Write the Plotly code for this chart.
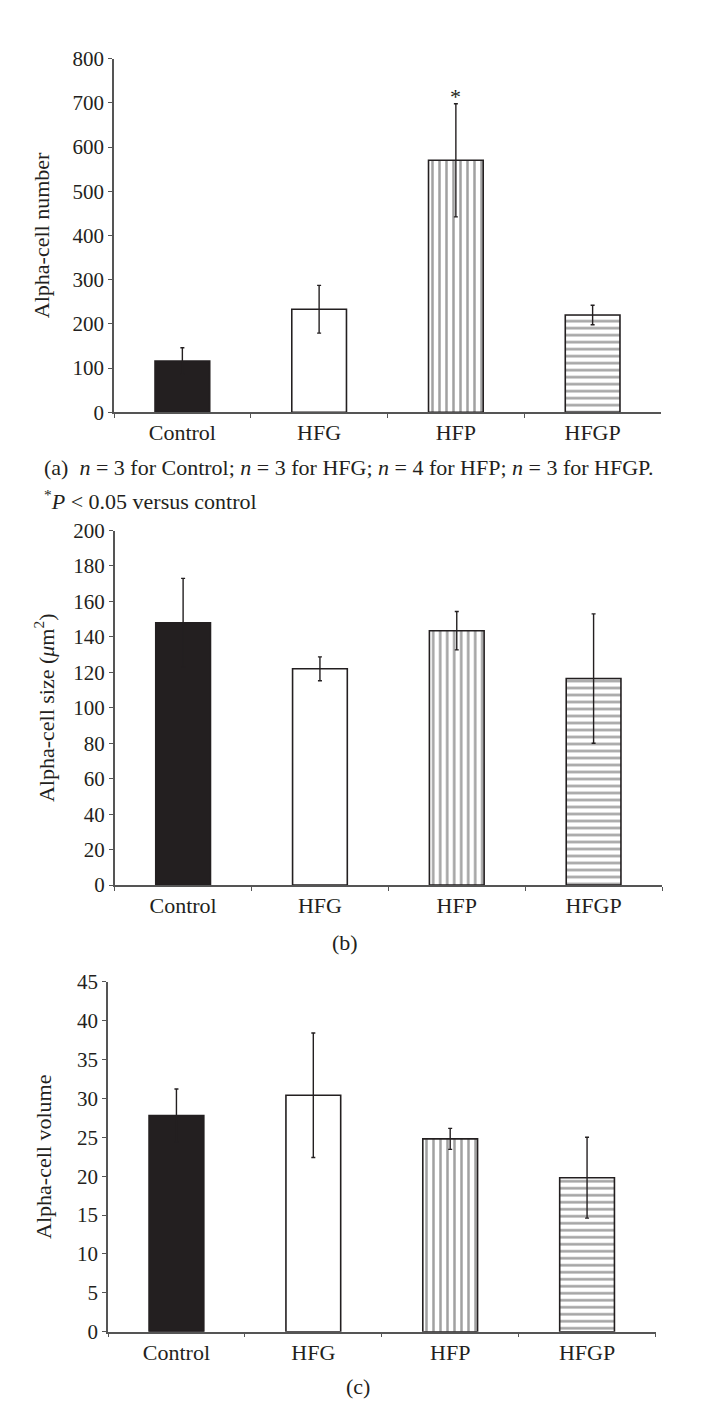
import plotly.graph_objects as go

categories = ["Control", "HFG", "HFP", "HFGP"]

number_vals = [116, 233, 570, 220]
number_errs = [30, 54, 128, 22]

size_vals = [148, 122, 143.5, 116.5]
size_errs = [25, 6.7, 10.8, 36.5]

volume_vals = [27.8, 30.4, 24.8, 19.8]
volume_errs = [3.4, 8.0, 1.35, 5.2]

panel_ranges = [800, 200, 45]
panel_dticks = [100, 20, 5]
panel_titles = ["Alpha-cell number",
                "Alpha-cell size (<i>μ</i>m<sup>2</sup>)",
                "Alpha-cell volume"]

INK = "#231f20"
AXIS = "#555555"
FONT = "Liberation Serif"
W, H = 701, 1418

fills = [INK, "white", "white", "white"]
shapes = ["", "", "|", "-"]

# pixel boxes of each plot area: (left, right, bottom, top)
boxes = [(106, 653, 399, 39.3),
         (106.7, 654, 880, 519.3),
         (100, 647.5, 1334.3, 978.3)]
standoffs = [17, 13, 19]

fig = go.Figure()
data_sets = [(number_vals, number_errs), (size_vals, size_errs), (volume_vals, volume_errs)]

for i, (vals, errs) in enumerate(data_sets):
    xa = "x" if i == 0 else f"x{i+1}"
    ya = "y" if i == 0 else f"y{i+1}"
    fig.add_trace(go.Bar(
        x=categories, y=vals, xaxis=xa, yaxis=ya, width=0.4,
        marker=dict(color=fills, line=dict(color=INK, width=1.6),
                    pattern=dict(shape=shapes, size=7, solidity=0.36, fgcolor=INK)),
        error_y=dict(type="data", array=errs, color=INK, thickness=1.4, width=2),
        showlegend=False, hoverinfo="skip"))

for i, (l, r, b, t) in enumerate(boxes):
    sx = "xaxis" if i == 0 else f"xaxis{i+1}"
    sy = "yaxis" if i == 0 else f"yaxis{i+1}"
    ya = "y" if i == 0 else f"y{i+1}"
    xa = "x" if i == 0 else f"x{i+1}"
    fig.layout[sx] = dict(domain=[l / W, r / W], anchor=ya, range=[-0.5, 3.5],
                          showline=True, linecolor=AXIS, linewidth=1.5,
                          ticks="outside", tickson="boundaries", ticklen=4, tickcolor=AXIS,
                          showgrid=False, zeroline=False,
                          tickfont=dict(family=FONT, size=22, color=INK))
    fig.layout[sy] = dict(domain=[1 - b / H, 1 - t / H], anchor=xa,
                          range=[0, panel_ranges[i]], dtick=panel_dticks[i],
                          showline=True, linecolor=AXIS, linewidth=1.5,
                          ticks="outside", ticklen=4, tickcolor=AXIS,
                          showgrid=False, zeroline=False,
                          tickfont=dict(family=FONT, size=21, color=INK),
                          title=dict(text=panel_titles[i], standoff=standoffs[i],
                                     font=dict(family=FONT, size=22, color=INK)))

# significance asterisk above HFP
fig.add_annotation(x=categories[2], y=number_vals[2] + number_errs[2], xref="x", yref="y",
                   text="*", showarrow=False, yanchor="middle", yshift=7,
                   font=dict(family=FONT, size=22, color=INK))

captions = [
    dict(x=34, y=455, xanchor="left",
         text="(a)  <i>n</i> = 3 for Control; <i>n</i> = 3 for HFG; <i>n</i> = 4 for HFP; <i>n</i> = 3 for HFGP."),
    dict(x=34, y=488, xanchor="left",
         text="<sup>*</sup><i>P</i> < 0.05 versus control"),
    dict(x=337, y=938, xanchor="center", text="(b)"),
    dict(x=350, y=1390, xanchor="center", text="(c)"),
]
for c in captions:
    fig.add_annotation(x=c["x"] / W, y=1 - c["y"] / H, xref="paper", yref="paper",
                       xanchor=c["xanchor"], yanchor="middle", text=c["text"],
                       showarrow=False, font=dict(family=FONT, size=22, color=INK))

fig.update_layout(width=W, height=H, margin=dict(l=0, r=0, t=0, b=0),
                  paper_bgcolor="white", plot_bgcolor="white", bargap=0.6)

fig.write_html("out.html")
